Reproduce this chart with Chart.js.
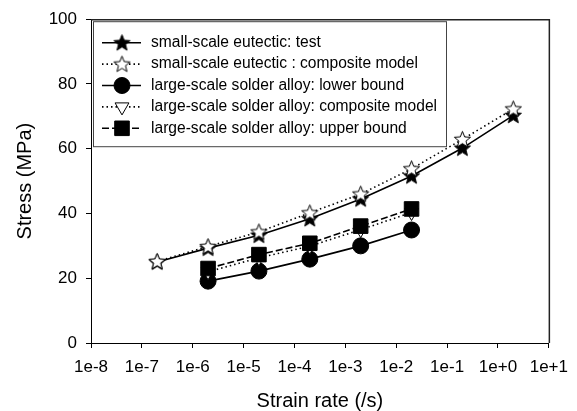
<!DOCTYPE html>
<html>
<head>
<meta charset="utf-8">
<script src="https://cdn.jsdelivr.net/npm/chart.js@4/dist/chart.umd.min.js"></script>
<style>
html, body { margin: 0; padding: 0; background: #fff; }
</style>
</head>
<body>
<canvas id="stressChart" width="577" height="411"></canvas>
<script>
// strain rates (/s)
var eutecticRates = [2e-7, 2e-6, 2e-5, 2e-4, 2e-3, 2e-2, 2e-1, 2e0];
var solderRates = [2e-6, 2e-5, 2e-4, 2e-3, 2e-2];

// stress (MPa)
var eutecticTest = [25.0, 29.3, 33.3, 38.4, 44.5, 51.6, 60.2, 70.3];
var eutecticModel = [25.2, 29.8, 34.3, 40.2, 46.0, 53.8, 62.9, 72.3];
var solderLower = [19.1, 22.2, 25.9, 30.0, 34.9];
var solderModel = [22.0, 26.3, 29.9, 35.0, 40.3];
var solderUpper = [23.0, 27.3, 30.8, 36.1, 41.4];

var seriesNames = [
    'small-scale eutectic: test',
    'small-scale eutectic : composite model',
    'large-scale solder alloy: lower bound',
    'large-scale solder alloy: composite model',
    'large-scale solder alloy: upper bound'
];

var xTickLabels = ['1e-8', '1e-7', '1e-6', '1e-5', '1e-4', '1e-3', '1e-2', '1e-1', '1e+0', '1e+1'];
var yTickValues = [0, 20, 40, 60, 80, 100];

var fontFamily = 'Arial, "Liberation Sans", sans-serif';
Chart.defaults.font.family = fontFamily;
Chart.defaults.color = '#000';

// five pointed star marker
function starImage(filled) {
    var c = document.createElement('canvas');
    c.width = 19;
    c.height = 19;
    var g = c.getContext('2d');
    var R = 8.5, r = 3.7;
    g.beginPath();
    for (var i = 0; i < 10; i++) {
        var a = -Math.PI / 2 + i * Math.PI / 5;
        var d = i % 2 ? r : R;
        g.lineTo(9.5 + d * Math.cos(a), 10 + d * Math.sin(a));
    }
    g.closePath();
    g.fillStyle = filled ? '#000' : '#fff';
    g.fill();
    g.strokeStyle = '#000';
    g.lineWidth = 1;
    g.stroke();
    return c;
}
var filledStar = starImage(true);
var openStar = starImage(false);

function pairs(xs, ys) {
    return xs.map(function(x, i) { return {x: x, y: ys[i]}; });
}

var frame = {
    id: 'frame',
    afterDatasetsDraw: function(chart) {
        var a = chart.chartArea, ctx = chart.ctx;
        ctx.save();
        ctx.strokeStyle = '#222';
        ctx.lineWidth = 1.5;
        ctx.beginPath();
        ctx.moveTo(a.left, a.top + 0.5);
        ctx.lineTo(a.right + 0.5, a.top + 0.5);
        ctx.lineTo(a.right + 0.5, a.bottom);
        ctx.stroke();
        ctx.restore();
    }
};

var boxLegend = {
    id: 'boxLegend',
    afterDraw: function(chart) {
        var a = chart.chartArea, ctx = chart.ctx;
        var bx = a.left + 2.5, by = a.top + 2.5;
        ctx.save();
        ctx.fillStyle = '#fff';
        ctx.fillRect(bx, by, 353, 125);
        ctx.lineWidth = 1;
        ctx.strokeStyle = '#444';
        ctx.strokeRect(bx, by, 353, 125);
        chart.data.datasets.forEach(function(ds, i) {
            var y = a.top + 23.5 + i * 21.4;
            var cx = a.left + 31;
            ctx.strokeStyle = '#000';
            ctx.lineWidth = ds.borderWidth;
            ctx.setLineDash(ds.borderDash || []);
            ctx.beginPath();
            ctx.moveTo(a.left + 11, y);
            ctx.lineTo(a.left + 50, y);
            ctx.stroke();
            ctx.setLineDash([]);
            ctx.fillStyle = ds.backgroundColor;
            ctx.lineWidth = 1;
            Chart.helpers.drawPoint(ctx, {
                pointStyle: ds.pointStyle,
                radius: ds.pointRadius,
                rotation: ds.pointRotation || 0,
                borderWidth: 1
            }, cx, y);
            ctx.fillStyle = '#000';
            ctx.font = '15.6px ' + fontFamily;
            ctx.textAlign = 'left';
            ctx.textBaseline = 'middle';
            ctx.fillText(ds.label, a.left + 60, y);
        });
        ctx.restore();
    }
};

new Chart(document.getElementById('stressChart'), {
    type: 'scatter',
    data: {
        datasets: [{
            label: seriesNames[0],
            data: pairs(eutecticRates, eutecticTest),
            showLine: true,
            borderColor: '#000',
            backgroundColor: '#000',
            borderWidth: 1.6,
            pointStyle: filledStar,
            pointRadius: 8,
            order: 1
        }, {
            label: seriesNames[1],
            data: pairs(eutecticRates, eutecticModel),
            showLine: true,
            borderColor: '#000',
            backgroundColor: '#fff',
            borderWidth: 1.6,
            borderDash: [1.5, 3],
            pointStyle: openStar,
            pointRadius: 8,
            order: 0
        }, {
            label: seriesNames[2],
            data: pairs(solderRates, solderLower),
            showLine: true,
            borderColor: '#000',
            backgroundColor: '#000',
            borderWidth: 1.6,
            pointStyle: 'circle',
            pointRadius: 8,
            pointBorderWidth: 1,
            order: 4
        }, {
            label: seriesNames[3],
            data: pairs(solderRates, solderModel),
            showLine: true,
            borderColor: '#000',
            backgroundColor: '#fff',
            borderWidth: 1.6,
            borderDash: [1.5, 3],
            pointStyle: 'triangle',
            pointRotation: 180,
            pointRadius: 8,
            pointBorderWidth: 1,
            order: 3
        }, {
            label: seriesNames[4],
            data: pairs(solderRates, solderUpper),
            showLine: true,
            borderColor: '#000',
            backgroundColor: '#000',
            borderWidth: 1.6,
            borderDash: [7, 3],
            pointStyle: 'rect',
            pointRadius: 10.3,
            pointBorderWidth: 1,
            order: 2
        }]
    },
    options: {
        responsive: false,
        animation: false,
        events: [],
        layout: {
            padding: {left: 0, top: 14, right: 28, bottom: 0}
        },
        plugins: {
            legend: {display: false},
            tooltip: {enabled: false}
        },
        elements: {
            line: {tension: 0}
        },
        scales: {
            x: {
                type: 'logarithmic',
                min: 1e-8,
                max: 1e1,
                afterBuildTicks: function(scale) {
                    scale.ticks = xTickLabels.map(function(l) { return {value: Number(l)}; });
                },
                afterFit: function(scale) { scale.height = 68; },
                ticks: {
                    autoSkip: false,
                    maxRotation: 0,
                    padding: 9,
                    font: {size: 17},
                    callback: function(v, i) { return xTickLabels[i]; }
                },
                grid: {drawOnChartArea: false, tickLength: 5, color: '#000'},
                border: {color: '#000', width: 1},
                title: {
                    display: true,
                    text: 'Strain rate (/s)',
                    font: {size: 20, lineHeight: 1},
                    padding: {top: 0, bottom: 0}
                }
            },
            y: {
                min: 0,
                max: 100,
                afterBuildTicks: function(scale) {
                    scale.ticks = yTickValues.map(function(v) { return {value: v}; });
                },
                afterFit: function(scale) { scale.width = 91; },
                ticks: {
                    padding: 9,
                    font: {size: 17}
                },
                grid: {drawOnChartArea: false, tickLength: 5, color: '#000'},
                border: {color: '#000', width: 1},
                title: {
                    display: true,
                    text: 'Stress (MPa)',
                    font: {size: 20, lineHeight: 1},
                    padding: {top: 15, bottom: 0}
                }
            }
        }
    },
    plugins: [frame, boxLegend]
});
</script>
</body>
</html>
